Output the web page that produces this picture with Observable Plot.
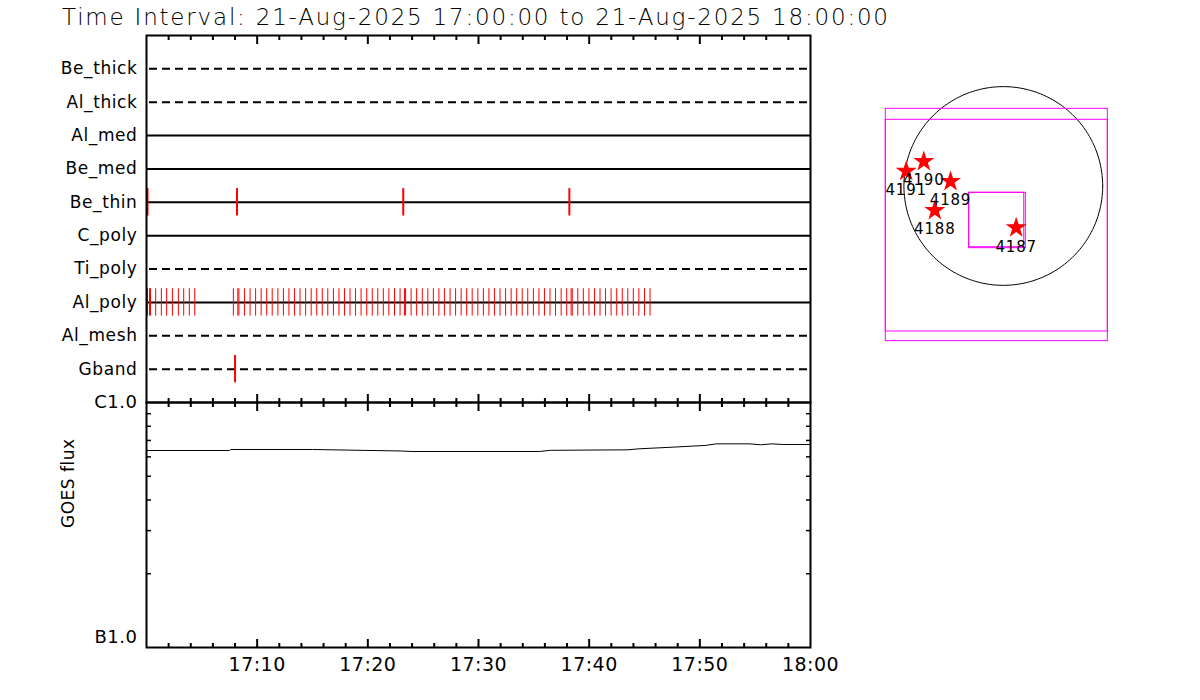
<!DOCTYPE html>
<html><head><meta charset="utf-8">
<script src="https://cdn.jsdelivr.net/npm/d3@7"></script>
<script src="https://cdn.jsdelivr.net/npm/@observablehq/plot@0.6"></script>
<style>
html,body{margin:0;padding:0;background:#fff;}
#wrap{position:relative;width:1200px;height:700px;overflow:hidden;font-family:"DejaVu Sans",sans-serif;}
#wrap svg{position:absolute;left:0;top:0;}
</style></head><body><div id="wrap"></div>
<script>
// ---------- data ----------
const titleText = "Time Interval: 21-Aug-2025 17:00:00 to 21-Aug-2025 18:00:00";
const startISO = "2025-08-21T17:00:00Z";
const endISO = "2025-08-21T18:00:00Z";

const filters = ["Be_thick","Al_thick","Al_med","Be_med","Be_thin","C_poly","Ti_poly","Al_poly","Al_mesh","Gband"];
const dashedFilters = ["Be_thick","Al_thick","Ti_poly","Al_mesh","Gband"];

// exposure times, minutes after 17:00
const beThinMin = [0.09, 8.18, 23.2, 38.21];
const gbandMin = [8.0];
const alPolyMin = [0.09, 0.27, 0.36, 0.83, 1.34, 1.82, 2.34, 2.88, 3.36, 3.87, 4.36,
  7.85, 8.25, 8.35, 8.85, 9.36, 9.86, 10.36, 10.86, 11.36, 11.87, 12.37, 12.87, 13.37, 13.87,
  14.38, 14.88, 15.38, 15.88, 16.38, 16.89, 17.39, 17.89, 18.39, 18.89, 19.39, 19.9, 20.4,
  20.9, 21.4, 21.9, 22.41, 22.91, 23.31, 23.41, 23.91, 24.41, 24.92, 25.42, 25.92, 26.42,
  26.92, 27.43, 27.93, 28.43, 28.93, 29.43, 29.94, 30.44, 30.94, 31.44, 31.94, 32.45, 32.95,
  33.45, 33.95, 34.45, 34.96, 35.46, 35.96, 36.46, 36.96, 37.47, 37.97, 38.37, 38.47, 38.97,
  39.47, 39.98, 40.48, 40.98, 41.48, 41.98, 42.49, 42.99, 43.49, 43.99, 44.49, 45.0, 45.5];

// GOES flux (W/m^2)
const goesMin  = [0, 7.5, 7.6, 15, 23, 24, 35.5, 36.5, 43.5, 44.5, 47.5, 50.5, 51.5, 54.5, 55.5, 56.5, 57.5, 60];
const goesFlux = [6.37e-7, 6.37e-7, 6.43e-7, 6.43e-7, 6.34e-7, 6.31e-7, 6.31e-7, 6.38e-7, 6.41e-7,
  6.47e-7, 6.57e-7, 6.68e-7, 6.78e-7, 6.78e-7, 6.72e-7, 6.78e-7, 6.74e-7, 6.74e-7];

const timeTickLabels = ["17:10","17:20","17:30","17:40","17:50","18:00"];
const fluxMinorTicks = [2e-7,3e-7,4e-7,5e-7,6e-7,7e-7,8e-7,9e-7];
const fluxLabelValues = [1e-7, 1e-6];
const fluxLabels = ["B1.0", "C1.0"];

// active regions (heliocentric arcsec)
const arNames = ["4187","4188","4189","4190","4191"];
const arX = [123, -654, -504, -759, -927];
const arY = [-399, -234, 43, 234, 141];
const limbRadius = 949;
// fields of view [x1, x2, y1, y2] in arcsec
const fovRects = [[-1122, 998, -1390, 737], [-1122, 998, -1482, 632], [-326, 200, -585, -65], [-326, 215, -594, -65]];

// ---------- build ----------
const t0 = new Date(startISO), t1 = new Date(endISO);
const toDate = m => new Date(+t0 + m * 60000);
const minorTicks = d3.utcMinute.every(2).range(t0, t1).filter(d => d.getUTCMinutes() % 10 !== 0);
const majorTicks = d3.utcMinute.every(10).range(new Date(+t0 + 1), t1);
const labelDates = timeTickLabels.map(s => new Date(`2025-08-21T${s}:00Z`));

const ev = (arr, f) => arr.map(m => ({t: toDate(m), filter: f}));
const alPoly = ev(alPolyMin, "Al_poly");
const thick = [...ev(beThinMin, "Be_thin"), ...ev(gbandMin, "Gband")];
const goes = goesMin.map((m, i) => ({t: toDate(m), flux: goesFlux[i]}));

const baseStyle = {background: "transparent", fontFamily: "DejaVu Sans, sans-serif", color: "black", overflow: "visible"};
const wrap = document.getElementById("wrap");

const tickAxes = (extra = []) => [
  Plot.axisX({anchor: "top", ticks: minorTicks, tickSize: -4, strokeWidth: 2, tickFormat: () => ""}),
  Plot.axisX({anchor: "top", ticks: majorTicks, tickSize: -8, strokeWidth: 2, tickFormat: () => ""}),
  Plot.axisX({anchor: "bottom", ticks: minorTicks, tickSize: -4, strokeWidth: 2, tickFormat: () => ""}),
  Plot.axisX({anchor: "bottom", ticks: majorTicks, tickSize: -8, strokeWidth: 2, tickFormat: () => ""}),
  ...extra
];

// title
const tsvg = d3.create("svg").attr("width", 1200).attr("height", 40);
tsvg.append("text").attr("x", 62).attr("y", 25)
  .attr("textLength", 826).attr("lengthAdjust", "spacing")
  .attr("font-family", "DejaVu Sans, sans-serif").attr("font-size", 23).attr("font-weight", 200)
  .attr("fill", "black").text(titleText);
wrap.append(tsvg.node());

// filter panel
const topPlot = Plot.plot({
  width: 1200, height: 700,
  marginLeft: 146, marginRight: 390, marginTop: 35, marginBottom: 298,
  style: {...baseStyle, fontSize: "17px", letterSpacing: "0.6px"},
  x: {type: "utc", domain: [t0, t1], label: null},
  y: {type: "band", domain: filters, paddingInner: 0, paddingOuter: 0.5, round: false, label: null},
  marks: [
    Plot.ruleY(filters.filter(f => !dashedFilters.includes(f)), {y: d => d, stroke: "black", strokeWidth: 2}),
    Plot.ruleY(dashedFilters, {y: d => d, stroke: "black", strokeWidth: 2, strokeDasharray: "8,5", strokeDashoffset: 10}),
    Plot.tickX(alPoly, {x: "t", y: "filter", stroke: "red", strokeWidth: 1, insetTop: 3, insetBottom: 3}),
    Plot.tickX(thick, {x: "t", y: "filter", stroke: "red", strokeWidth: 2, insetTop: 3, insetBottom: 3}),
    Plot.frame({stroke: "black", strokeWidth: 2}),
    Plot.axisY({tickSize: 0, tickPadding: 9, fontSize: 17}),
    ...tickAxes()
  ]
});
wrap.append(topPlot);

// GOES panel
const goesPlot = Plot.plot({
  width: 1200, height: 700,
  marginLeft: 146, marginRight: 390, marginTop: 402, marginBottom: 53,
  style: {...baseStyle, fontSize: "18px", letterSpacing: "0.5px"},
  x: {type: "utc", domain: [t0, t1], label: null},
  y: {type: "log", domain: [fluxLabelValues[0], fluxLabelValues[1]], label: null},
  marks: [
    Plot.line(goes, {x: "t", y: "flux", stroke: "black", strokeWidth: 1}),
    Plot.frame({stroke: "black", strokeWidth: 2}),
    Plot.axisY({anchor: "left", ticks: fluxMinorTicks, tickSize: -5, strokeWidth: 1.5, tickFormat: () => ""}),
    Plot.axisY({anchor: "right", ticks: fluxMinorTicks, tickSize: -5, strokeWidth: 1.5, tickFormat: () => ""}),
    Plot.axisY({anchor: "left", ticks: [fluxLabelValues[1]], tickSize: 0, tickPadding: 9, fontSize: 18, tickFormat: () => fluxLabels[1]}),
    Plot.axisY({anchor: "left", ticks: [fluxLabelValues[0]], tickSize: 0, tickPadding: 9, dy: -10, fontSize: 18, tickFormat: () => fluxLabels[0]}),
    Plot.text(["GOES flux"], {text: d => d, frameAnchor: "left", rotate: -90, dx: -78, dy: 3, fontSize: 17, fill: "black"}),
    ...tickAxes([
      Plot.axisX({anchor: "bottom", ticks: labelDates, tickSize: 0, tickPadding: 10, fontSize: 19, tickFormat: d3.utcFormat("%H:%M")})
    ])
  ]
});
wrap.append(goesPlot);

// solar map
const limb = d3.range(0, 361, 2).map(a => ({x: limbRadius * Math.cos(a * Math.PI / 180), y: limbRadius * Math.sin(a * Math.PI / 180)}));
const ars = arNames.map((n, i) => ({name: n, x: arX[i], y: arY[i]}));
const fovs = fovRects.map(([x1, x2, y1, y2]) => ({x1, x2, y1, y2}));
const mapPlot = Plot.plot({
  width: 1200, height: 700,
  marginLeft: 870, marginRight: 80, marginTop: 70, marginBottom: 340,
  style: {...baseStyle, fontSize: "15px", letterSpacing: "0.8px"},
  x: {domain: [-1268, 1119], axis: null},
  y: {domain: [-1667, 1103], axis: null},
  marks: [
    Plot.line(limb, {x: "x", y: "y", stroke: "black", strokeWidth: 1}),
    Plot.rect(fovs, {x1: "x1", x2: "x2", y1: "y1", y2: "y2", stroke: "#ff00ff", fill: "none", strokeWidth: 1}),
    Plot.dot(ars, {x: "x", y: "y", symbol: "star", r: 6.6, fill: "red", stroke: "none"}),
    Plot.text(ars, {x: "x", y: "y", text: "name", dy: 19, fontSize: 15, fill: "black"})
  ]
});
wrap.append(mapPlot);
</script></body></html>
